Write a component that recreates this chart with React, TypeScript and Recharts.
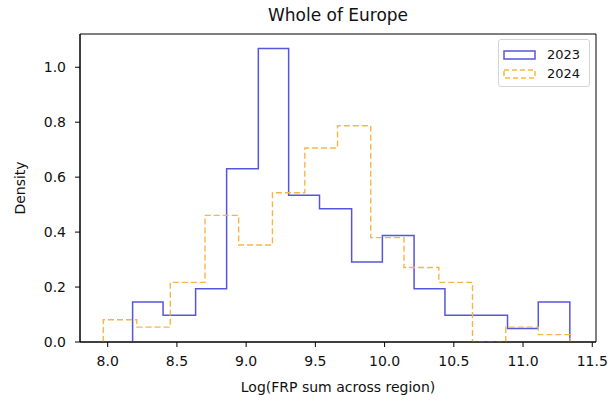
import { LineChart, Line, XAxis, YAxis, ReferenceArea } from "recharts";

// bin edges and densities
const edges2023 = [8.18, 8.40, 8.635, 8.859, 9.088, 9.307, 9.53, 9.762, 9.984, 10.213, 10.436, 10.662, 10.888, 11.11, 11.338];
const density2023 = [0.146, 0.097, 0.194, 0.631, 1.068, 0.534, 0.485, 0.291, 0.388, 0.194, 0.097, 0.097, 0.049, 0.146];

const edges2024 = [7.968, 8.21, 8.452, 8.703, 8.946, 9.19, 9.424, 9.66, 9.90, 10.14, 10.392, 10.635, 10.875, 11.11, 11.34];
const density2024 = [0.081, 0.054, 0.217, 0.461, 0.353, 0.543, 0.706, 0.787, 0.38, 0.271, 0.217, 0, 0.054, 0.027];

const xTicks = [8.0, 8.5, 9.0, 9.5, 10.0, 10.5, 11.0, 11.5];
const yTicks = [0.0, 0.2, 0.4, 0.6, 0.8, 1.0];
const xDomain = [7.8, 11.527];
const yDomain = [0, 1.121];

const BLUE = "#5656dc";
const ORANGE = "#f6b646";
const FONT = "'DejaVu Sans', sans-serif";

// outline of a step histogram: up at the first edge, across each bin, down at the last edge
function stepPoints(edges: number[], dens: number[]) {
  const pts = [{ x: edges[0], y: 0 }];
  dens.forEach((d, i) => pts.push({ x: edges[i], y: d }));
  pts.push({ x: edges[edges.length - 1], y: 0 });
  return pts;
}

function LegendBox() {
  return (
    <div
      style={{
        position: "absolute",
        left: 498,
        top: 39,
        width: 92,
        height: 48,
        border: "1px solid #d4d4d4",
        borderRadius: 3,
        background: "rgba(255,255,255,0.8)",
        boxSizing: "border-box",
        fontFamily: FONT,
        fontSize: 13,
        color: "#111",
      }}
    >
      {[
        { name: "2023", color: BLUE, dash: undefined },
        { name: "2024", color: ORANGE, dash: "5 3" },
      ].map((it, i) => (
        <div key={it.name} style={{ position: "absolute", left: 4, top: 7 + i * 19, height: 16, display: "flex", alignItems: "center" }}>
          <svg width={34} height={12} style={{ display: "block" }}>
            <rect x={1} y={2} width={31} height={8} fill="none" stroke={it.color} strokeWidth={1.5} strokeDasharray={it.dash} />
          </svg>
          <span style={{ marginLeft: 10, lineHeight: "16px" }}>{it.name}</span>
        </div>
      ))}
    </div>
  );
}

export default function App() {
  const d2023 = stepPoints(edges2023, density2023);
  const d2024 = stepPoints(edges2024, density2024);
  const tickStyle = { fill: "#111", fontSize: 14, fontFamily: FONT };

  return (
    <div style={{ position: "absolute", left: 0, top: 0, width: 611, height: 405, background: "#fff" }}>
      <div
        style={{
          position: "absolute",
          left: 80,
          width: 516,
          top: 5,
          textAlign: "center",
          fontFamily: FONT,
          fontSize: 17,
          color: "#111",
        }}
      >
        Whole of Europe
      </div>
      <LineChart width={611} height={405} margin={{ top: 34, right: 15, bottom: 0, left: 0 }}>
        <XAxis
          dataKey="x"
          type="number"
          domain={xDomain}
          ticks={xTicks}
          tickFormatter={(v) => v.toFixed(1)}
          allowDataOverflow
          height={63}
          stroke="#000"
          tickSize={5}
          tickMargin={9}
          tick={tickStyle}
          label={{
            content: () => (
              <text x={338} y={387} textAnchor="middle" dominantBaseline="central" fontSize={14} fontFamily={FONT} fill="#111">
                Log(FRP sum across region)
              </text>
            ),
          }}
        />
        <YAxis
          type="number"
          domain={yDomain}
          ticks={yTicks}
          tickFormatter={(v) => v.toFixed(1)}
          allowDataOverflow
          width={80}
          stroke="#000"
          tickSize={5}
          tickMargin={9}
          tick={tickStyle}
          label={{
            content: () => (
              <text x={20} y={188} transform="rotate(-90 20 188)" textAnchor="middle" dominantBaseline="central" fontSize={14} fontFamily={FONT} fill="#111">
                Density
              </text>
            ),
          }}
        />
        <Line data={d2023} dataKey="y" name="2023" type="stepAfter" stroke={BLUE} strokeWidth={1.5} dot={false} isAnimationActive={false} />
        <Line data={d2024} dataKey="y" name="2024" type="stepAfter" stroke={ORANGE} strokeWidth={1.4} strokeDasharray="6 3" dot={false} isAnimationActive={false} />
        <ReferenceArea x1={xDomain[0]} x2={xDomain[1]} y1={yDomain[0]} y2={yDomain[1]} fill="none" stroke="#000" strokeWidth={1} ifOverflow="visible" />
      </LineChart>
      <LegendBox />
    </div>
  );
}
